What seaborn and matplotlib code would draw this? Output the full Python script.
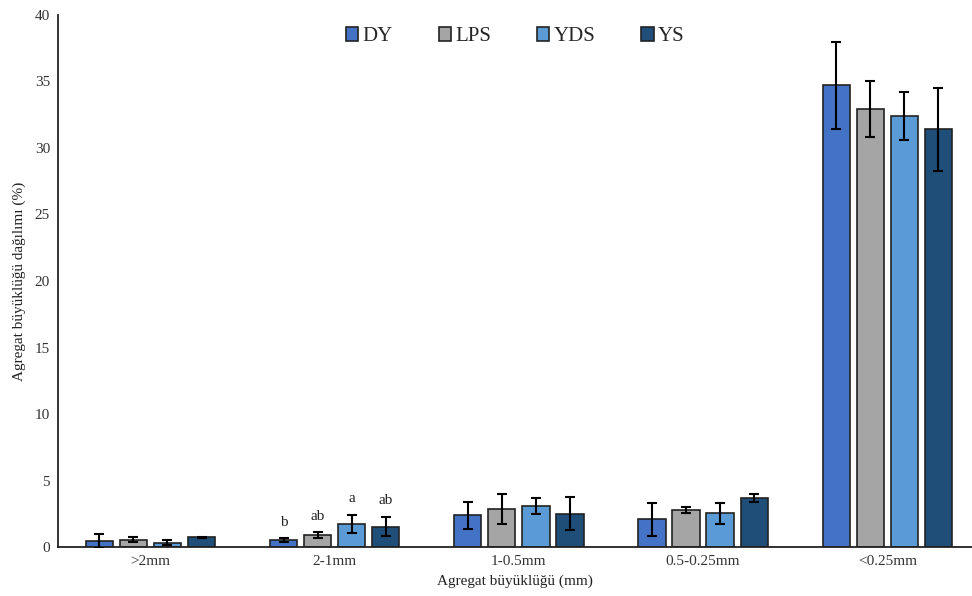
import matplotlib
matplotlib.use("Agg")
import matplotlib.pyplot as plt
import numpy as np
import pandas as pd
import seaborn as sns

# aggregate size classes and treatments
sizes = [">2mm", "2-1mm", "1-0.5mm", "0.5-0.25mm", "<0.25mm"]
groups = ["DY", "LPS", "YDS", "YS"]

# mean values (%) per treatment, in size order
dy = [0.45, 0.55, 2.4, 2.1, 34.7]
lps = [0.55, 0.9, 2.85, 2.8, 32.95]
yds = [0.33, 1.73, 3.08, 2.55, 32.4]
ys = [0.73, 1.55, 2.5, 3.66, 31.4]

# standard errors
dy_err = [0.55, 0.15, 1.0, 1.25, 3.3]
lps_err = [0.2, 0.23, 1.13, 0.25, 2.1]
yds_err = [0.2, 0.7, 0.58, 0.8, 1.83]
ys_err = [0.05, 0.75, 1.23, 0.3, 3.1]

# significance letters for the 2-1mm class
letters_21 = ["b", "ab", "a", "ab"]

colors = ["#4472C4", "#A5A5A5", "#5B9BD5", "#1F4E79"]

sns.set_theme(style="white")
plt.rcParams["font.family"] = ["Liberation Serif", "DejaVu Serif"]

means = {"DY": dy, "LPS": lps, "YDS": yds, "YS": ys}
errs = {"DY": dy_err, "LPS": lps_err, "YDS": yds_err, "YS": ys_err}
df = pd.DataFrame(
    [(s, g, means[g][i]) for g in groups for i, s in enumerate(sizes)],
    columns=["size", "group", "value"],
)

fig = plt.figure(figsize=(9.72, 5.96), dpi=100)
ax = fig.add_axes([0.06, 0.082, 0.94, 0.893])

sns.barplot(
    data=df, x="size", y="value", hue="group", order=sizes, hue_order=groups,
    palette=colors, saturation=1, width=0.74, gap=0.2, errorbar=None,
    edgecolor="#222222", linewidth=1.2, ax=ax,
)

for g, cont in zip(groups, ax.containers):
    xs = [p.get_x() + p.get_width() / 2 for p in cont.patches]
    ax.errorbar(xs, means[g], yerr=errs[g], fmt="none", ecolor="black",
                elinewidth=1.5, capsize=3.5, capthick=1.5, zorder=5)

# letters above 2-1mm bars
for k, g in enumerate(groups):
    p = ax.containers[k].patches[1]
    top = means[g][1] + errs[g][1]
    ax.text(p.get_x() + p.get_width() / 2, top + 0.7, letters_21[k],
            ha="center", va="bottom", fontsize=11, color="#222222")

ax.set_ylim(0, 40)
ax.set_yticks(range(0, 41, 5))
ax.set_xlim(-0.5, 4.46)
ax.set_xlabel("Agregat büyüklüğü (mm)", fontsize=11, color="#222222")
ax.set_ylabel("Agregat büyüklüğü dağılımı (%)", fontsize=11, color="#222222", labelpad=6)
ax.tick_params(axis="both", length=0, labelsize=11, colors="#333333", pad=6)
for side in ["top", "right"]:
    ax.spines[side].set_visible(False)
for side in ["left", "bottom"]:
    ax.spines[side].set_color("#222222")
    ax.spines[side].set_linewidth(1.3)

ax.legend(loc="upper center", bbox_to_anchor=(0.5, 1.012), ncol=4, frameon=False,
          fontsize=15, handlelength=0.6, handleheight=0.6, columnspacing=2.2,
          handletextpad=0.2, title=None)

fig.savefig("out.png", dpi=100)
